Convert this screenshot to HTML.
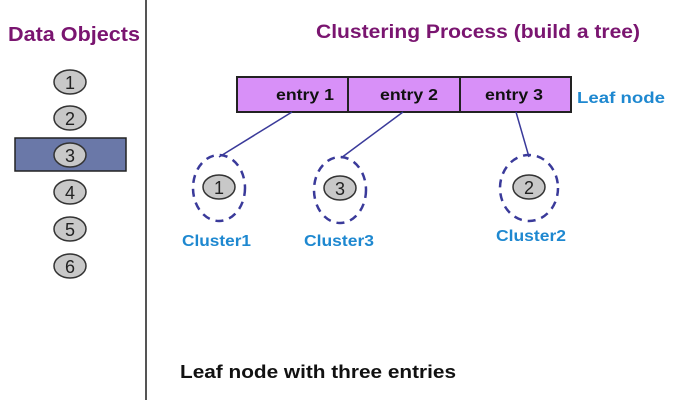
<!DOCTYPE html>
<html><head><style>body{margin:0;background:#fff}</style></head><body>
<svg width="695" height="400" xmlns="http://www.w3.org/2000/svg" font-family="Liberation Sans, sans-serif">
<rect width="695" height="400" fill="#fff"/>
<line x1="146" y1="0" x2="146" y2="400" stroke="#555" stroke-width="2"/>
<text x="8" y="41" font-size="20" font-weight="bold" fill="#7a1570" textLength="132" lengthAdjust="spacingAndGlyphs">Data Objects</text>
<text x="316" y="38" font-size="19" font-weight="bold" fill="#7a1570" textLength="324" lengthAdjust="spacingAndGlyphs">Clustering Process  (build a tree)</text>
<rect x="15" y="138" width="111" height="33" fill="#6a78a8" stroke="#222" stroke-width="1.5"/>
<g fill="#c8c8c8" stroke="#333" stroke-width="1.5">
<ellipse cx="70" cy="82" rx="16" ry="12"/><ellipse cx="70" cy="118" rx="16" ry="12"/>
<ellipse cx="70" cy="155" rx="16" ry="12"/><ellipse cx="70" cy="192" rx="16" ry="12"/>
<ellipse cx="70" cy="229" rx="16" ry="12"/><ellipse cx="70" cy="266" rx="16" ry="12"/>
<ellipse cx="219" cy="187" rx="16" ry="12"/><ellipse cx="340" cy="188" rx="16" ry="12"/>
<ellipse cx="529" cy="187" rx="16" ry="12"/>
</g>
<g font-size="18" fill="#222" text-anchor="middle">
<text x="70" y="89">1</text><text x="70" y="125">2</text><text x="70" y="162">3</text>
<text x="70" y="199">4</text><text x="70" y="236">5</text><text x="70" y="273">6</text>
<text x="219" y="194">1</text><text x="340" y="195">3</text><text x="529" y="194">2</text>
</g>
<rect x="237" y="77" width="334" height="35" fill="#d890f8" stroke="#222" stroke-width="2"/>
<line x1="348" y1="77" x2="348" y2="112" stroke="#222" stroke-width="2"/>
<line x1="460" y1="77" x2="460" y2="112" stroke="#222" stroke-width="2"/>
<g font-size="16" fill="#111" font-weight="bold">
<text x="276" y="100" textLength="58" lengthAdjust="spacingAndGlyphs">entry 1</text>
<text x="380" y="100" textLength="58" lengthAdjust="spacingAndGlyphs">entry 2</text>
<text x="485" y="100" textLength="58" lengthAdjust="spacingAndGlyphs">entry 3</text>
</g>
<text x="577" y="103" font-size="16" font-weight="bold" fill="#1e88d0" textLength="88" lengthAdjust="spacingAndGlyphs">Leaf node</text>
<g stroke="#3a3a9a" stroke-width="1.5" fill="none">
<line x1="292" y1="112" x2="219" y2="157"/><line x1="403" y1="112" x2="341" y2="158"/>
<line x1="516" y1="112" x2="529" y2="157"/>
</g>
<g stroke="#3a3a9a" stroke-width="2.5" fill="none" stroke-dasharray="8,6">
<ellipse cx="219" cy="188" rx="26" ry="33"/><ellipse cx="340" cy="190" rx="26" ry="33"/>
<ellipse cx="529" cy="188" rx="29" ry="33"/>
</g>
<g font-size="16" font-weight="bold" fill="#1e88d0">
<text x="182" y="246" textLength="69" lengthAdjust="spacingAndGlyphs">Cluster1</text>
<text x="304" y="246" textLength="70" lengthAdjust="spacingAndGlyphs">Cluster3</text>
<text x="496" y="241" textLength="70" lengthAdjust="spacingAndGlyphs">Cluster2</text>
</g>
<text x="180" y="378" font-size="18" font-weight="bold" fill="#111" textLength="276" lengthAdjust="spacingAndGlyphs">Leaf node with three entries</text>
</svg>
</body></html>
